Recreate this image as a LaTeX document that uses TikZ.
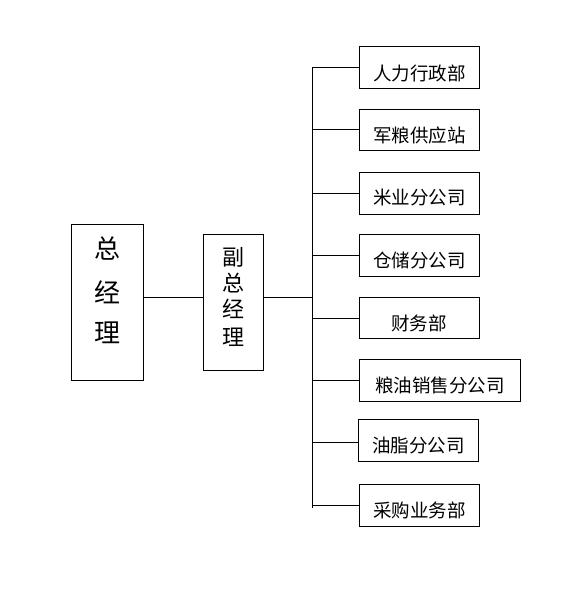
\documentclass[tikz,border=0pt]{standalone}
\usepackage{fontspec}
\newfontfamily\cjk{Noto Sans CJK SC}
\begin{document}
\begin{tikzpicture}[x=1pt,y=-1pt,
  box/.style={draw,line width=1pt,inner sep=0pt},
  lbl/.style={font=\cjk\fontsize{18.5}{20}\selectfont,inner sep=0pt,anchor=west},
  big/.style={font=\cjk\fontsize{26}{28}\selectfont,inner sep=0pt},
  mid/.style={font=\cjk\fontsize{22}{24}\selectfont,inner sep=0pt},
  conn/.style={line width=1pt}]
\useasboundingbox (0,0) rectangle (562,604);
% main boxes
\node[box,minimum width=72pt,minimum height=156pt] (gm) at (107,302) {};
\node[big] (g1) at (107,248) {总};
\node[big] (g2) at (107,292) {经};
\node[big] (g3) at (107,333) {理};
\node[box,minimum width=60pt,minimum height=136pt] (vgm) at (233,302) {};
\node[mid] (v1) at (233,257) {副};
\node[mid] (v2) at (233,283) {总};
\node[mid] (v3) at (233,309) {经};
\node[mid] (v4) at (233,337) {理};
\draw[conn] (gm.east |- 0,297) -- (vgm.west |- 0,297);
\coordinate (hub) at (312,297);
\draw[conn] (vgm.east |- 0,297) -- (hub);
\coordinate (top) at (312,68);
\coordinate (bot) at (312,508);
\draw[conn] (top) -- (bot);
% department boxes
\node[box,minimum width=120pt,minimum height=42pt] (d1) at (419,68) {};
\node[box,minimum width=120pt,minimum height=41pt] (d2) at (419,130.5) {};
\node[box,minimum width=120pt,minimum height=42pt] (d3) at (419,193) {};
\node[box,minimum width=120pt,minimum height=42pt] (d4) at (419,255) {};
\node[box,minimum width=120pt,minimum height=41pt] (d5) at (419,317.5) {};
\node[box,minimum width=161pt,minimum height=42pt] (d6) at (439.5,380) {};
\node[box,minimum width=120pt,minimum height=42pt] (d7) at (418,440) {};
\node[box,minimum width=120pt,minimum height=42pt] (d8) at (419,505) {};
\node[lbl] (t1) at (373,73) {人力行政部};
\node[lbl] (t2) at (373,135) {军粮供应站};
\node[lbl] (t3) at (373,198) {米业分公司};
\node[lbl] (t4) at (373,260) {仓储分公司};
\node[lbl,anchor=center] (t5) at (419,323) {财务部};
\node[lbl] (t6) at (375,385) {粮油销售分公司};
\node[lbl] (t7) at (372,446) {油脂分公司};
\node[lbl] (t8) at (373,510) {采购业务部};
% connectors
\draw[conn] (top) -- (d1.west);
\draw[conn] (312,130) -- (d2.west |- 0,130);
\draw[conn] (312,193) -- (d3.west);
\draw[conn] (312,255) -- (d4.west);
\draw[conn] (312,318) -- (d5.west |- 0,318);
\draw[conn] (312,380) -- (d6.west);
\draw[conn] (312,442) -- (d7.west |- 0,442);
\draw[conn] (312,505) -- (d8.west);
\end{tikzpicture}
\end{document}
